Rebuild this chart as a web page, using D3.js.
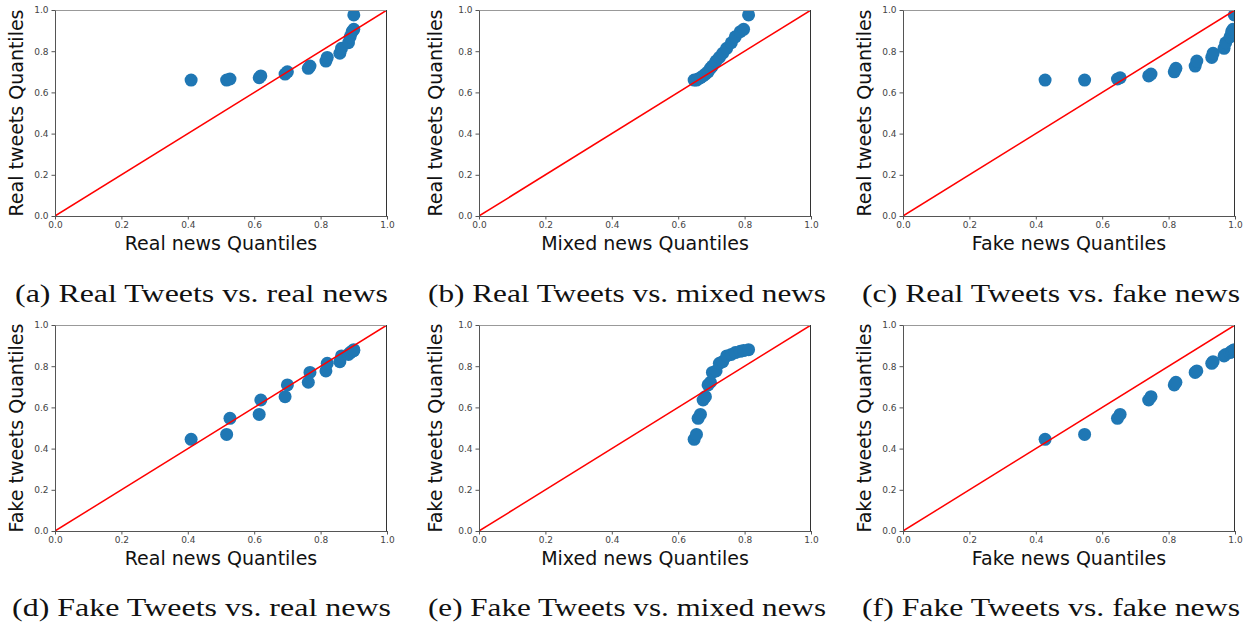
<!DOCTYPE html>
<html>
<head>
<meta charset="utf-8">
<script src="https://cdn.jsdelivr.net/npm/d3@7"></script>
<style>
  body { margin: 0; background: #fff; }
  svg { display: block; }
</style>
</head>
<body>
<div id="chart"></div>
<script>
// Quantile values (18 quantiles per distribution)
const realNews   = [0.41, 0.517, 0.527, 0.615, 0.62, 0.693, 0.70, 0.763, 0.768, 0.816, 0.82, 0.858, 0.863, 0.884, 0.889, 0.895, 0.90, 0.90];
const mixedNews  = [0.648, 0.655, 0.66, 0.667, 0.675, 0.682, 0.69, 0.697, 0.703, 0.714, 0.724, 0.734, 0.746, 0.76, 0.772, 0.787, 0.797, 0.812];
const fakeNews   = [0.428, 0.547, 0.646, 0.654, 0.74, 0.747, 0.817, 0.822, 0.88, 0.885, 0.93, 0.934, 0.967, 0.972, 0.985, 0.99, 0.994, 0.998];
const realTweets = [0.66, 0.66, 0.665, 0.671, 0.68, 0.689, 0.70, 0.717, 0.728, 0.752, 0.77, 0.79, 0.814, 0.841, 0.87, 0.895, 0.906, 0.976];
const fakeTweets = [0.445, 0.469, 0.547, 0.566, 0.636, 0.652, 0.709, 0.722, 0.770, 0.777, 0.814, 0.822, 0.85, 0.857, 0.866, 0.872, 0.876, 0.88];

const tickValues = [0, 0.2, 0.4, 0.6, 0.8, 1.0];
const diagonal = [[0, 0], [1, 1]];

const newsSets  = [realNews, mixedNews, fakeNews];
const newsNames = ["Real news Quantiles", "Mixed news Quantiles", "Fake news Quantiles"];
const tweetSets  = [realTweets, fakeTweets];
const tweetNames = ["Real tweets Quantiles", "Fake tweets Quantiles"];
const captions = [
    ["(a) Real Tweets vs. real news", "(b) Real Tweets vs. mixed news", "(c) Real Tweets vs. fake news"],
    ["(d) Fake Tweets vs. real news", "(e) Fake Tweets vs. mixed news", "(f) Fake Tweets vs. fake news"]
];

// Layout
const W = 1248, H = 625;
const colLeft = [55, 479, 903];
const rowTop = [10, 325];
const pw = 332, ph = 206;
const yLabelGap = [32, 37, 32];
const capCenter = [201.5, 627, 1051];
const capBase = [302, 616];
const capWidth = [[373, 398, 378], [379, 398, 378]];

const svg = d3.select("#chart").append("svg")
    .attr("width", W)
    .attr("height", H);

rowTop.forEach((top, r) => {
    colLeft.forEach((left, c) => {
        const xs = newsSets[c], ys = tweetSets[r];
        const pts = xs.map((v, i) => [v, ys[i]]);
        const id = `clip-${r}-${c}`;

        const x = d3.scaleLinear().domain([0, 1]).range([0, pw]);
        const y = d3.scaleLinear().domain([0, 1]).range([ph, 0]);

        const g = svg.append("g").attr("transform", `translate(${left},${top})`);

        g.append("clipPath").attr("id", id)
            .append("rect").attr("width", pw).attr("height", ph);

        const plot = g.append("g").attr("clip-path", `url(#${id})`);

        // Points
        plot.selectAll("circle")
            .data(pts)
            .enter()
            .append("circle")
            .attr("cx", d => x(d[0]))
            .attr("cy", d => y(d[1]))
            .attr("r", 6.5)
            .attr("fill", "#1f77b4");

        // y = x reference line
        plot.append("path")
            .datum(diagonal)
            .attr("d", d3.line().x(d => x(d[0])).y(d => y(d[1])))
            .attr("fill", "none")
            .attr("stroke", "red")
            .attr("stroke-width", 1.5);

        // Spines (top/right)
        g.append("line").attr("x1", 0).attr("x2", pw).attr("y1", 0.5).attr("y2", 0.5)
            .attr("stroke", "#999");
        g.append("line").attr("x1", pw - 0.5).attr("x2", pw - 0.5).attr("y1", 0).attr("y2", ph)
            .attr("stroke", "#333");

        // Axes
        const xAxis = g.append("g")
            .attr("transform", `translate(0,${ph})`)
            .call(d3.axisBottom(x).tickValues(tickValues).tickFormat(d3.format(".1f"))
                .tickSize(3.5).tickSizeOuter(0).tickPadding(2));
        const yAxis = g.append("g")
            .call(d3.axisLeft(y).tickValues(tickValues).tickFormat(d3.format(".1f"))
                .tickSize(3.5).tickSizeOuter(0).tickPadding(3));

        [xAxis, yAxis].forEach(a => {
            a.select(".domain").attr("stroke", "#555");
            a.selectAll(".tick line").attr("stroke", "#555");
            a.selectAll("text")
                .style("font-family", "DejaVu Sans")
                .style("font-size", "9px")
                .attr("fill", "#444");
        });

        // Axis labels
        g.append("text")
            .attr("x", pw / 2)
            .attr("y", ph + 34)
            .attr("text-anchor", "middle")
            .style("font-family", "DejaVu Sans")
            .style("font-size", "19px")
            .attr("fill", "#111")
            .text(newsNames[c]);

        g.append("text")
            .attr("transform", `translate(${-yLabelGap[c]},${ph / 2}) rotate(-90)`)
            .attr("text-anchor", "middle")
            .style("font-family", "DejaVu Sans")
            .style("font-size", "19px")
            .attr("fill", "#111")
            .text(tweetNames[r]);

        // Sub-figure caption
        svg.append("text")
            .attr("x", capCenter[c])
            .attr("y", capBase[r])
            .attr("text-anchor", "middle")
            .attr("textLength", capWidth[r][c])
            .attr("lengthAdjust", "spacingAndGlyphs")
            .style("font-family", "Liberation Serif")
            .style("font-size", "26px")
            .attr("fill", "#111")
            .text(captions[r][c]);
    });
});
</script>
</body>
</html>
